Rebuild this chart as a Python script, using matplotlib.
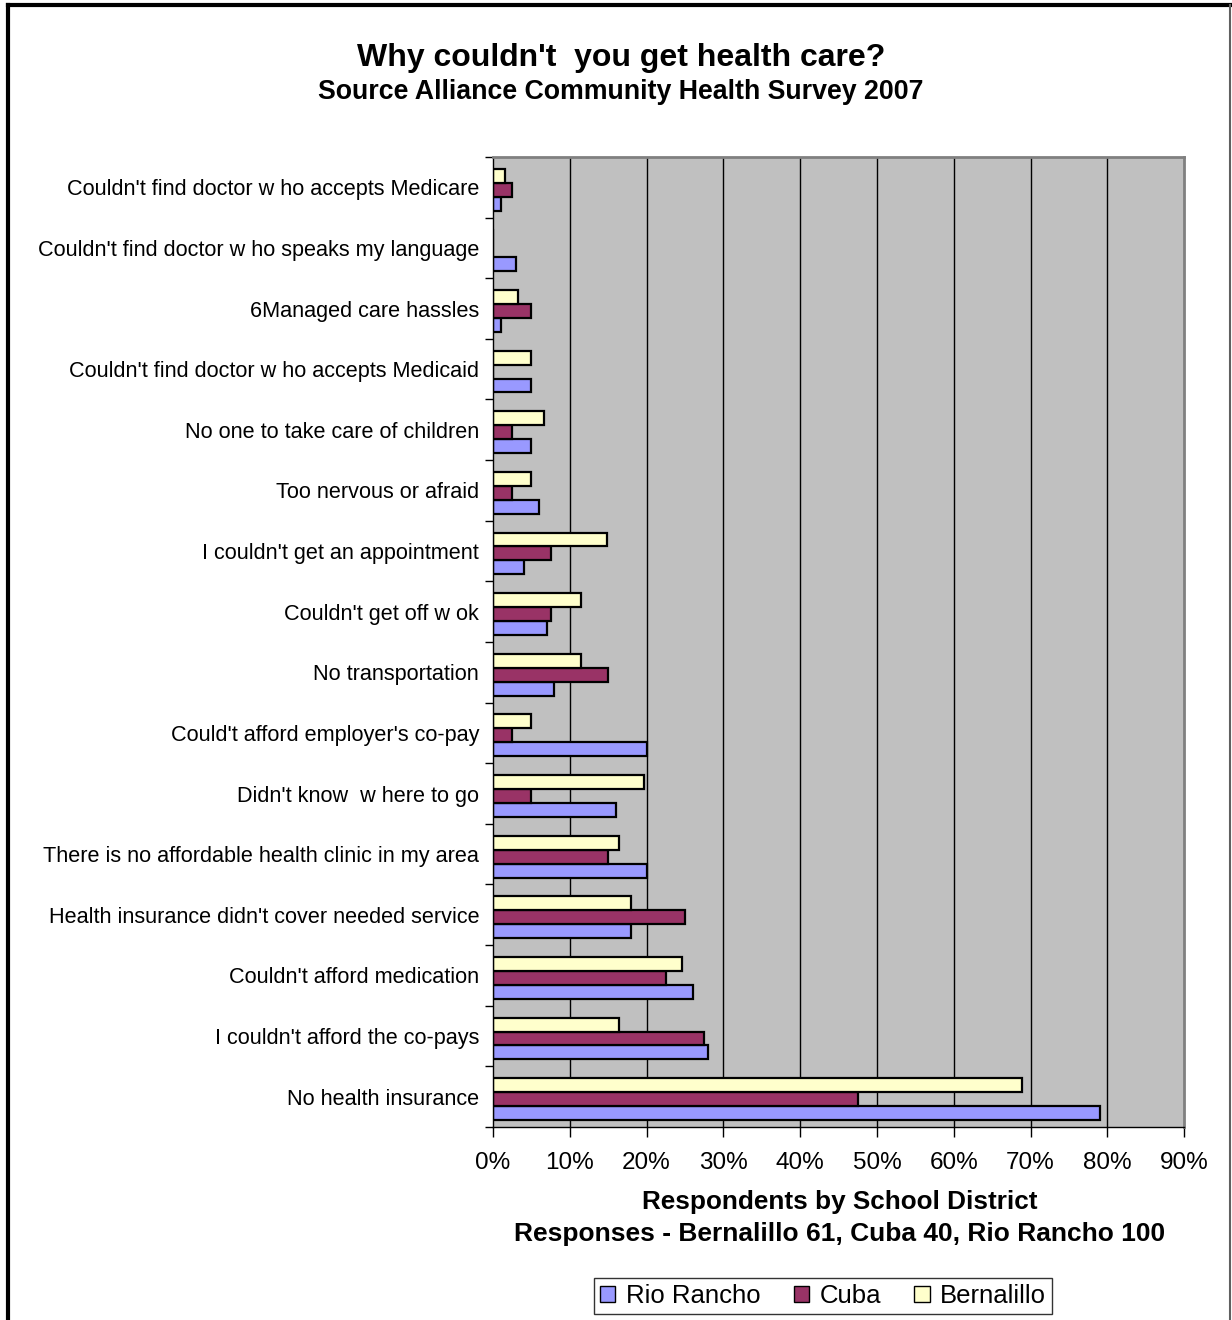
# coding: utf-8
"""
Why couldn't you get health care? - grouped horizontal bar chart
"""

import matplotlib.pyplot as plt
import matplotlib.patches as mpatches
import numpy as np

plt.rcParams['font.family'] = ['Liberation Sans', 'DejaVu Sans']

# categories, top to bottom
categories = [
    "Couldn't find doctor w ho accepts Medicare",
    "Couldn't find doctor w ho speaks my language",
    "6Managed care hassles",
    "Couldn't find doctor w ho accepts Medicaid",
    "No one to take care of children",
    "Too nervous or afraid",
    "I couldn't get an appointment",
    "Couldn't get off w ok",
    "No transportation",
    "Could't afford employer's co-pay",
    "Didn't know  w here to go",
    "There is no affordable health clinic in my area",
    "Health insurance didn't cover needed service",
    "Couldn't afford medication",
    "I couldn't afford the co-pays",
    "No health insurance",
]

# percent of respondents
rio_rancho = [1, 3, 1, 5, 5, 6, 4, 7, 8, 20, 16, 20, 18, 26, 28, 79]
cuba = [2.5, 0, 5, 0, 2.5, 2.5, 7.5, 7.5, 15, 2.5, 5, 15, 25, 22.5, 27.5, 47.5]
bernalillo = [1.6, 0, 3.3, 4.9, 6.6, 4.9, 14.8, 11.5, 11.5, 4.9, 19.7, 16.4, 18.0, 24.6, 16.4, 68.9]

series_names = ['Rio Rancho', 'Cuba', 'Bernalillo']
colors = ['#9999FF', '#993366', '#FFFFCC']

fig = plt.figure(figsize=(12.32, 13.2), dpi=100)
ax = fig.add_axes([0.4002, 0.1462, 0.5609, 0.7349])
ax.set_facecolor('#C0C0C0')

n = len(categories)
y = np.arange(n) + 0.04  # 0 = top category, inverted later
h = 0.23

# Bernalillo on top, Cuba middle, Rio Rancho bottom of each group
ax.barh(y + h, rio_rancho, height=h, color=colors[0], edgecolor='black', linewidth=1.6)
ax.barh(y, cuba, height=h, color=colors[1], edgecolor='black', linewidth=1.6)
ax.barh(y - h, bernalillo, height=h, color=colors[2], edgecolor='black', linewidth=1.6)

ax.set_ylim(n - 0.5, -0.5)
ax.set_xlim(0, 90)

# grid lines
for gx in range(10, 90, 10):
    ax.axvline(gx, color='black', linewidth=1, zorder=0.5)

ax.set_xticks(range(0, 91, 10))
ax.set_xticklabels(['{}%'.format(v) for v in range(0, 91, 10)], fontsize=17.5)
ax.tick_params(axis='x', direction='out', length=7, width=1, pad=11)

# category labels at centers, ticks at the boundaries
ax.set_yticks(np.arange(n))
ax.set_yticklabels(categories, fontsize=15.6)
ax.tick_params(axis='y', length=0, pad=10)
ax.set_yticks(np.arange(-0.5, n, 1), minor=True)
ax.tick_params(axis='y', which='minor', direction='out', length=6, width=1)

for side in ['top', 'right']:
    ax.spines[side].set_color('#808080')
    ax.spines[side].set_linewidth(2)
for side in ['left', 'bottom']:
    ax.spines[side].set_color('black')
    ax.spines[side].set_linewidth(1)

# titles
fig.text(0.5045, 0.956, "Why couldn't  you get health care?", ha='center', va='center',
         fontsize=23, fontweight='bold')
fig.text(0.5038, 0.930, "Source Alliance Community Health Survey 2007", ha='center', va='center',
         fontsize=19.3, fontweight='bold')

# x axis title
fig.text(0.6815, 0.0895, "Respondents by School District", ha='center', va='center',
         fontsize=18.8, fontweight='bold')
fig.text(0.6815, 0.065, "Responses - Bernalillo 61, Cuba 40, Rio Rancho 100", ha='center', va='center',
         fontsize=19, fontweight='bold')

# legend
handles = [mpatches.Patch(facecolor=c, edgecolor='black', label=s) for c, s in zip(colors, series_names)]
leg = fig.legend(handles=handles, loc='center', bbox_to_anchor=(0.668, 0.0182), ncol=3,
                 fontsize=18.5, frameon=True, fancybox=False, edgecolor='black',
                 handlelength=0.6, handleheight=0.6, handletextpad=0.4, columnspacing=1.3,
                 borderpad=0.25)
leg.get_frame().set_linewidth(1)

# outer border
fig.add_artist(plt.Line2D([0.0068, 0.0068], [0, 0.9962], color='black', linewidth=3))
fig.add_artist(plt.Line2D([0.0068, 0.9985], [0.9962, 0.9962], color='black', linewidth=3))
fig.add_artist(plt.Line2D([0.9985, 0.9985], [0, 0.9962], color='#606060', linewidth=1.5))

fig.savefig('out.png', dpi=100)
